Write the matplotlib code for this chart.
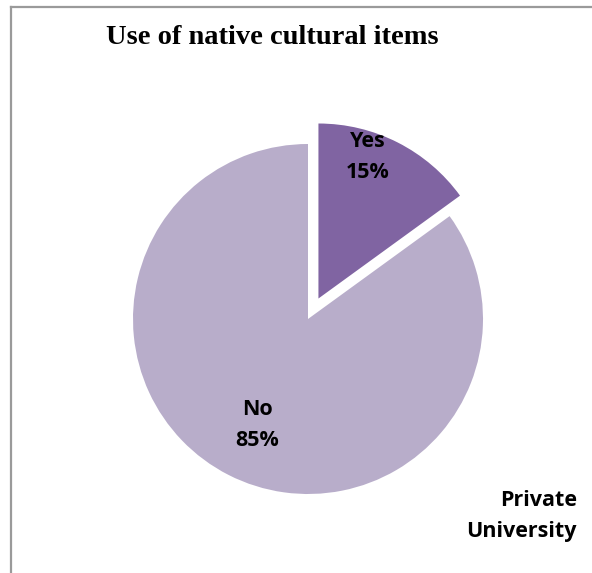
import matplotlib.pyplot as plt
from matplotlib.lines import Line2D

labels = ["Yes", "No"]
shares = [15, 85]
colors = ["#8064A2", "#B8ADCA"]

W, H = 592, 573
fig = plt.figure(figsize=(W / 100, H / 100), dpi=100)
ax = fig.add_axes([0, 0, 1, 1])

# pie centre / radius in pixel units
cx, cy, r = 308, H - 319, 175
wedges, _ = ax.pie(shares, colors=colors, startangle=90, counterclock=False,
                   explode=[23, 0], radius=r, center=(cx, cy),
                   wedgeprops=dict(linewidth=0), frame=True)
ax.set_xlim(0, W)
ax.set_ylim(0, H)
ax.set_aspect("equal")
ax.axis("off")

lab_font = dict(family="Open Sans", weight="bold", fontsize=15.5,
                ha="center", va="center", linespacing=1.62)
ax.text(368, H - 157, "%s\n%d%%" % (labels[0], shares[0]), **lab_font)
ax.text(257, H - 425, "%s\n%d%%" % (labels[1], shares[1]), **lab_font)

ax.text(577, H - 516, "Private\nUniversity", family="Open Sans", weight="bold",
        fontsize=15.5, ha="right", va="center", linespacing=1.65)

fig.text(272 / W, 1 - 37 / H, "Use of native cultural items",
         family="Liberation Serif", weight="bold", fontsize=20.5,
         ha="center", va="center")

# frame on top and left, as in the source
fig.add_artist(Line2D([10.5 / W, 1], [1 - 6.5 / H, 1 - 6.5 / H],
                      transform=fig.transFigure, color="#9a9a9a", lw=1.6))
fig.add_artist(Line2D([10.5 / W, 10.5 / W], [0, 1 - 6.5 / H],
                      transform=fig.transFigure, color="#9a9a9a", lw=1.6))

fig.savefig("out.png", dpi=100)
